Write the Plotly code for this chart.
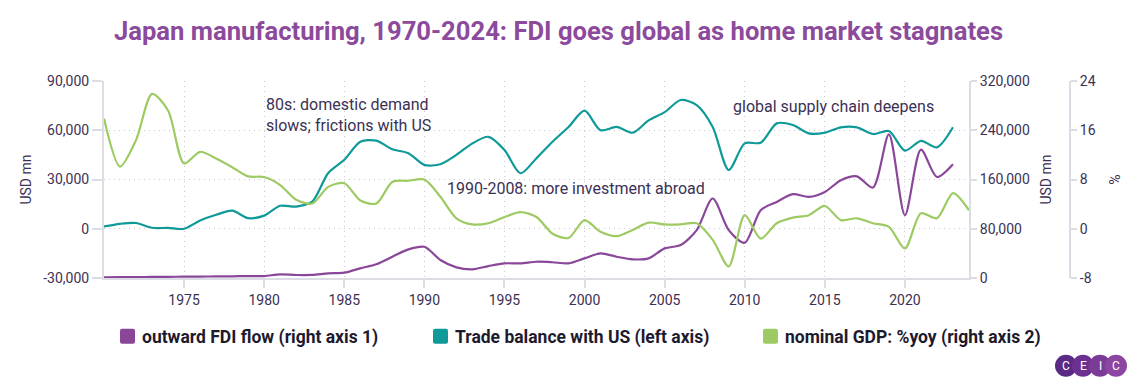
import plotly.graph_objects as go

years = list(range(1970, 2024))
years_gdp = list(range(1970, 2025))

trade_balance = [1400, 3000, 3500, 600, 500, 0, 5000, 8500, 11000, 6500,
                 8000, 14000, 13500, 16500, 34000, 42000, 53000, 53700, 48400, 46000,
                 38900, 39300, 45000, 52000, 56000, 48000, 33800, 43000, 53000, 62000,
                 71900, 60000, 62000, 58500, 66000, 71000, 78400, 75300, 62000, 35800,
                 52000, 52400, 64200, 63200, 58100, 58500, 61800, 61800, 57700, 59500,
                 47600, 53500, 49600, 61800]

outward_fdi = [1100, 1300, 1500, 1700, 1900, 2100, 2300, 2500, 2800, 3000,
               3200, 6000, 4900, 5000, 7600, 8600, 15700, 22200, 34500, 46500,
               50700, 29200, 17300, 14100, 19400, 23800, 23800, 26400, 25600, 23800,
               31900, 40000, 34500, 30300, 31900, 48100, 53500, 77800, 129100, 77800,
               57200, 110200, 123600, 136100, 131700, 139800, 158800, 165200, 146900, 233300,
               102100, 208500, 164100, 184700]

gdp_yoy = [17.9, 10.1, 14.4, 21.9, 19.2, 10.6, 12.5, 11.4, 10.0, 8.5,
           8.4, 7.1, 4.7, 4.1, 6.8, 7.4, 4.6, 4.1, 7.6, 7.8,
           8.0, 5.2, 1.7, 0.7, 0.9, 1.9, 2.7, 1.9, -0.8, -1.5,
           1.4, -0.5, -1.2, -0.2, 1.0, 0.7, 0.7, 0.9, -1.8, -6.1,
           2.2, -1.6, 0.9, 1.8, 2.2, 3.7, 1.4, 1.7, 0.9, 0.3,
           -3.2, 2.5, 1.7, 5.8, 3.0]

names = ["outward FDI flow (right axis 1)", "Trade balance with US (left axis)",
         "nominal GDP: %yoy (right axis 2)"]
colors = ["#8a4799", "#0f9a98", "#9dca62"]

left_ticks = [-30000, 0, 30000, 60000, 90000]
left_labels = ["-30,000", "0", "30,000", "60,000", "90,000"]
right1_ticks = [0, 80000, 160000, 240000, 320000]
right1_labels = ["0", "80,000", "160,000", "240,000", "320,000"]
right2_ticks = [-8, 0, 8, 16, 24]
right2_labels = ["-8", "0", "8", "16", "24"]
x_ticks = [1975, 1980, 1985, 1990, 1995, 2000, 2005, 2010, 2015, 2020]

TXT = "#3b3155"
GRID = "#c9c9d3"
AXL = "#dcdce4"

fig = go.Figure()
fig.add_trace(go.Scatter(x=years, y=trade_balance, mode="lines", yaxis="y",
                         line=dict(color=colors[1], width=2.2, shape="spline", smoothing=0.8),
                         showlegend=False, hoverinfo="skip"))
fig.add_trace(go.Scatter(x=years, y=outward_fdi, mode="lines", yaxis="y2",
                         line=dict(color=colors[0], width=2.2, shape="spline", smoothing=0.8),
                         showlegend=False, hoverinfo="skip"))
fig.add_trace(go.Scatter(x=years_gdp, y=gdp_yoy, mode="lines", yaxis="y3",
                         line=dict(color=colors[2], width=2.2, shape="spline", smoothing=0.8),
                         showlegend=False, hoverinfo="skip"))

W, H = 1137, 389
L, R = 104, 1070
T, B = 80.5, 278
pw = R - L
ph = B - T

def px(x):
    return (x - L) / pw

def py(y):
    return (B - y) / ph

fig.update_layout(
    width=W, height=H,
    margin=dict(l=L, r=W - R, t=T, b=H - B, autoexpand=False),
    paper_bgcolor="white", plot_bgcolor="white",
    showlegend=False,
    font=dict(family="Roboto, Arial, sans-serif", color=TXT, size=14),
    title=dict(text="<b>Japan manufacturing, 1970-2024: FDI goes global as home market stagnates</b>",
               x=558.5 / W, xanchor="center", y=1 - 31 / H, yanchor="middle",
               font=dict(size=25.6, color="#8c4a9c")),
    xaxis=dict(domain=[0, px(969)], range=[1970, 2024], tickvals=x_ticks, automargin=False,
               showgrid=True, gridcolor=GRID, griddash="1px,4px", gridwidth=1,
               showline=True, linecolor=AXL, linewidth=2,
               ticks="outside", ticklen=8, tickcolor=AXL, tickwidth=2,
               tickfont=dict(size=14, color=TXT), zeroline=False),
    yaxis=dict(range=[-30000, 90000], tickvals=left_ticks, ticktext=left_labels, automargin=False,
               showgrid=True, gridcolor=GRID, griddash="1px,4px", gridwidth=1,
               showline=True, linecolor=AXL, linewidth=2,
               ticks="outside", ticklen=10, tickcolor=AXL, tickwidth=2,
               tickfont=dict(size=14, color=TXT), zeroline=False,
               title=dict(text="USD mn", font=dict(size=14, color=TXT), standoff=8)),
    yaxis2=dict(range=[0, 320000], tickvals=right1_ticks, ticktext=right1_labels,
                overlaying="y", side="right", anchor="x", automargin=False,
                showgrid=False, showline=True, linecolor=AXL, linewidth=2,
                ticks="outside", ticklen=6, tickcolor=AXL, tickwidth=2,
                tickfont=dict(size=14, color=TXT), zeroline=False,
                title=dict(text="USD mn", font=dict(size=14, color=TXT), standoff=12)),
    yaxis3=dict(range=[-8, 24], tickvals=right2_ticks, ticktext=right2_labels,
                overlaying="y", side="right", anchor="free", position=1.0, automargin=False,
                showgrid=False, showline=True, linecolor=AXL, linewidth=2,
                ticks="outside", ticklen=6, tickcolor=AXL, tickwidth=2,
                tickfont=dict(size=14, color=TXT), zeroline=False,
                title=dict(text="%", font=dict(size=14, color=TXT), standoff=15)),
)

annots = [
    dict(text="80s: domestic demand<br>slows; frictions with US", x=px(264), y=py(115),
         xanchor="left", yanchor="middle", align="left"),
    dict(text="1990-2008: more investment abroad", x=px(445), y=py(188),
         xanchor="left", yanchor="middle", align="left"),
    dict(text="global supply chain deepens", x=px(731), y=py(106),
         xanchor="left", yanchor="middle", align="left"),
]
for a in annots:
    fig.add_annotation(xref="paper", yref="paper", showarrow=False,
                       font=dict(size=16, color=TXT), **a)

# legend drawn manually (rounded squares + bold labels)
leg_x = [120, 433, 763]
sq = "M 2,0 L 13,0 Q 15,0 15,2 L 15,13 Q 15,15 13,15 L 2,15 Q 0,15 0,13 L 0,2 Q 0,0 2,0 Z"
for lx, n, c in zip(leg_x, names, colors):
    fig.add_shape(type="path", xref="paper", yref="paper",
                  xsizemode="pixel", ysizemode="pixel",
                  xanchor=px(lx), yanchor=py(344), path=sq,
                  fillcolor=c, line=dict(width=0), layer="above")
    fig.add_annotation(xref="paper", yref="paper", showarrow=False,
                       x=px(lx + 20), y=py(337.5), xanchor="left", yanchor="middle",
                       text="<b>" + n + "</b>", font=dict(size=17.5, color="#1e1a2e"))

# CEIC logo
logo_cx = [1066, 1083, 1100, 1116]
logo_col = ["#5a2a85", "#6c3190", "#7d3b98", "#8c45a0"]
letters = ["C", "E", "I", "C"]
for cx, col, ch in zip(logo_cx, logo_col, letters):
    fig.add_shape(type="circle", xref="paper", yref="paper",
                  xsizemode="pixel", ysizemode="pixel",
                  xanchor=px(cx), yanchor=py(366),
                  x0=-11, x1=11, y0=-11, y1=11,
                  fillcolor=col, line=dict(width=0), layer="above")
    fig.add_annotation(xref="paper", yref="paper", x=px(cx), y=py(366), text=ch,
                       showarrow=False, font=dict(size=12, color="white"),
                       xanchor="center", yanchor="middle")

fig.write_html("out.html", config={"displayModeBar": False},
               post_script="document.body.style.margin='0px';document.body.style.overflow='hidden';")
